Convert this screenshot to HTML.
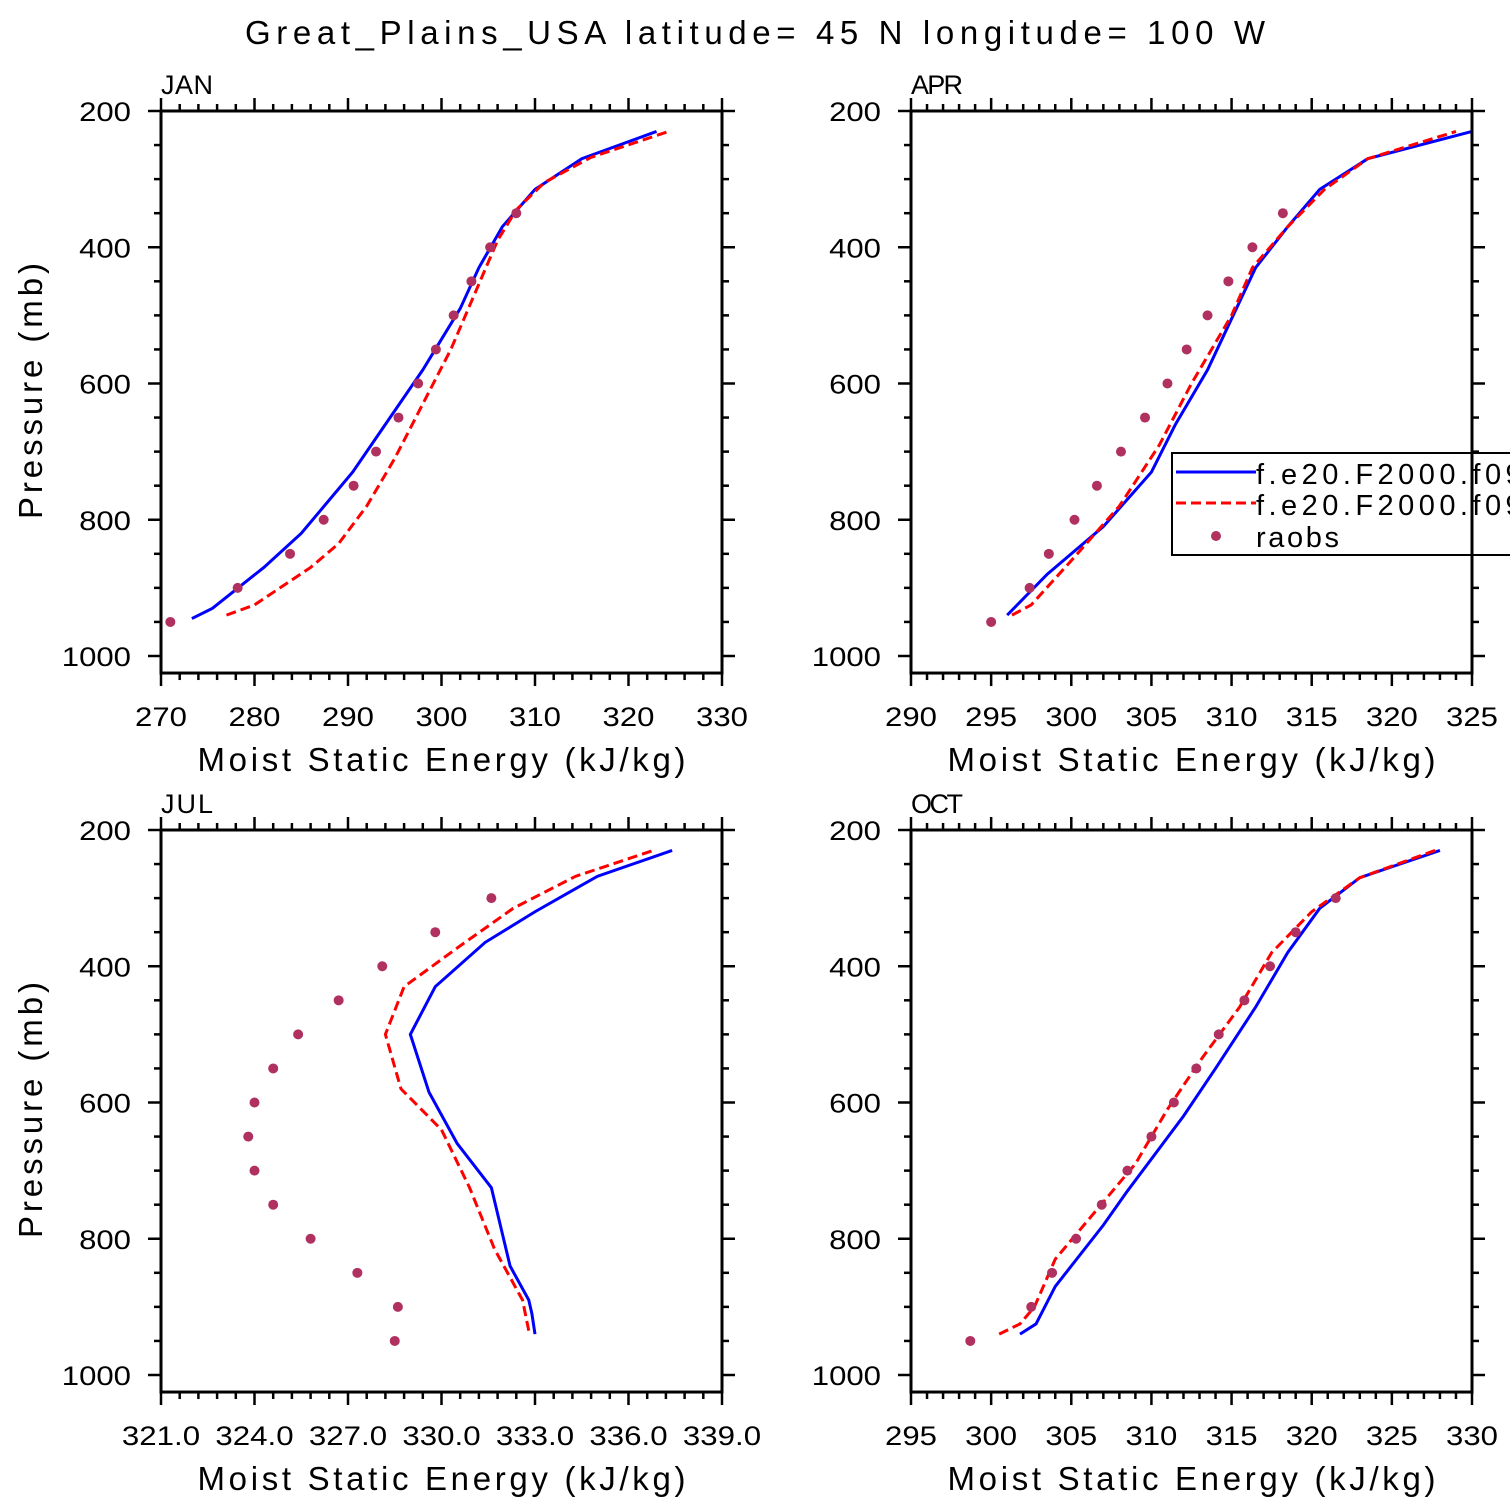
<!DOCTYPE html>
<html><head><meta charset="utf-8"><style>
html,body{margin:0;padding:0;background:#fff;}
svg{display:block;font-family:"Liberation Sans",sans-serif;}
</style></head><body>
<svg id="s" width="1510" height="1510" viewBox="0 0 1510 1510">
<text x="245" y="44" font-size="33" textLength="1020" lengthAdjust="spacing">Great_Plains_USA  latitude= 45 N longitude= 100 W</text>
</svg>
<script>
const levels=[950,900,850,800,750,700,650,600,550,500,450,400,350,300];
const janBlueX=[273.3,275.5,281,285,290.5,294,298,302,304,306.5,310,315,323];
const janBlueP=[945,930,870,820,730,660,580,490,430,370,315,270,230];
const janRedX=[277,280,286,289,292,295,298,301,303.5,306,308,311,316,324.3];
const janRedP=[940,925,870,835,780,710,630,550,470,390,345,305,268,230];
const janObs=[271,278.2,283.8,287.4,290.6,293,295.4,297.5,299.4,301.3,303.2,305.2,308];
const aprBlueX=[296,298.5,302,305,306.5,308.5,311.5,313.5,315.5,318.5,325];
const aprBlueP=[940,880,810,730,660,580,430,370,315,270,230];
const aprRedX=[296.3,297.5,300,303,305.5,307.5,310,311.3,313.5,315.8,318.5,324];
const aprRedP=[940,925,860,780,690,600,500,430,370,315,270,230];
const aprObs=[295,297.4,298.6,300.2,301.6,303.1,304.6,306,307.2,308.5,309.8,311.3,313.2];
const julBlueX=[333,332.9,332.8,332.2,331.6,330.5,329.6,329,329.8,331.4,333,335,337.4];
const julBlueP=[940,910,890,840,725,660,585,500,430,365,320,268,230];
const julRedX=[332.8,332.6,331.7,330.9,330,328.7,328.2,328.8,330.6,332.3,334.3,336.8];
const julRedP=[935,890,815,725,640,580,500,430,370,315,268,230];
const julObs=[328.5,328.6,327.3,325.8,324.6,324,323.8,324,324.6,325.4,326.7,328.1,329.8,331.6];
const octBlueX=[301.8,302.8,304,307,308.5,312,314,316.5,318.5,320.5,323,328];
const octBlueP=[940,925,870,780,730,620,550,460,380,315,270,230];
const octRedX=[300.5,301.8,302.7,304,306.5,309,311,313,315.5,317.5,320,323,327.7];
const octRedP=[940,925,900,830,760,690,610,540,460,380,320,270,230];
const octObs=[298.7,302.5,303.8,305.3,306.9,308.5,310,311.4,312.8,314.2,315.8,317.4,319,321.5];
const janTicks=["270","280","290","300","310","320","330"];
const aprTicks=["290","295","300","305","310","315","320","325"];
const julTicks=["321.0","324.0","327.0","330.0","333.0","336.0","339.0"];
const octTicks=["295","300","305","310","315","320","325","330"];
const yTicks=["200","400","600","800","1000"];

const NS="http://www.w3.org/2000/svg";
const svg=document.getElementById('s');
function mk(t,a,p){const e=document.createElementNS(NS,t);for(const k in a)e.setAttribute(k,a[k]);(p||svg).appendChild(e);return e;}
function tl(s){let n=0;for(const c of s)n+=(c==='.')?9:17.3;return n;}

const panels=[
 {name:'jan',title:'JAN',x0:161,y0:111,xmin:270,xmax:330,ticks:janTicks,b:[janBlueX,janBlueP],r:[janRedX,janRedP],o:janObs},
 {name:'apr',title:'APR',x0:911,y0:111,xmin:290,xmax:325,ticks:aprTicks,b:[aprBlueX,aprBlueP],r:[aprRedX,aprRedP],o:aprObs},
 {name:'jul',title:'JUL',x0:161,y0:830,xmin:321,xmax:339,ticks:julTicks,b:[julBlueX,julBlueP],r:[julRedX,julRedP],o:julObs},
 {name:'oct',title:'OCT',x0:911,y0:830,xmin:295,xmax:330,ticks:octTicks,b:[octBlueX,octBlueP],r:[octRedX,octRedP],o:octObs}
];
const W=561, PPM=545/800, H=825*PPM;
panels.forEach(p=>{
 const g=mk('g',{});
 
 
 const X=v=>p.x0+(v-p.xmin)/(p.xmax-p.xmin)*W;
 const Y=v=>p.y0+(v-200)*PPM;
 const t=mk('text',{x:p.x0,y:p.y0-17,'font-size':27,textLength:52,lengthAdjust:'spacing'},g);t.textContent=p.title;
 
 const n=p.ticks.length-1;
 for(let i=0;i<=n*5;i++){
  const v=p.xmin+(p.xmax-p.xmin)*i/(n*5);const x=X(v);const L=i%5==0?13:7;
  mk('line',{x1:x,x2:x,y1:p.y0,y2:p.y0-L,stroke:'#000','stroke-width':2.5},g);
  mk('line',{x1:x,x2:x,y1:p.y0+H,y2:p.y0+H+L,stroke:'#000','stroke-width':2.5},g);
 }
 p.ticks.forEach((s,i)=>{const v=p.xmin+(p.xmax-p.xmin)*i/n;const L=tl(s);
  const e=mk('text',{x:X(v)-L/2,y:p.y0+H+53,'font-size':27,textLength:L,lengthAdjust:'spacingAndGlyphs'},g);e.textContent=s;
  });
 for(let v=200;v<=1000;v+=50){const y=Y(v);const L=v%200==0?13:7;
  mk('line',{x1:p.x0,x2:p.x0-L,y1:y,y2:y,stroke:'#000','stroke-width':2.5},g);
  mk('line',{x1:p.x0+W,x2:p.x0+W+L,y1:y,y2:y,stroke:'#000','stroke-width':2.5},g);}
 yTicks.forEach(s=>{const L=tl(s);const e=mk('text',{x:p.x0-30-L,y:Y(+s)+10,'font-size':27,textLength:L,lengthAdjust:'spacingAndGlyphs'},g);e.textContent=s;
  });
 const xt=mk('text',{x:p.x0+W/2-244,y:p.y0+H+98,'font-size':33,textLength:488,lengthAdjust:'spacing'},g);xt.textContent='Moist Static Energy (kJ/kg)';
 
 if(p.x0<500){const yc=p.y0+H/2-1;const yt=mk('text',{x:42-128,y:yc,'font-size':33,textLength:256,lengthAdjust:'spacing',transform:`rotate(-90 42 ${yc})`},g);
  yt.setAttribute('x',42-128);yt.textContent='Pressure (mb)';
  }
 const pts=(a)=>a[0].map((v,i)=>X(v)+','+Y(a[1][i])).join(' ');
 const bl=mk('polyline',{points:pts(p.b),fill:'none',stroke:'#0000ff','stroke-width':3},g);
 
 const rl=mk('polyline',{points:pts(p.r),fill:'none',stroke:'#ff0000','stroke-width':3,'stroke-dasharray':'10,5'},g);
 
 p.o.forEach((v,i)=>{const c=mk('circle',{cx:X(v),cy:Y(levels[i]),r:5,fill:'#b03060'},g);
  });
 if(p.name==='apr'){
  const lg=mk('g',{},g);
  mk('rect',{x:1172,y:453,width:360,height:102,fill:'#fff',stroke:'#000','stroke-width':2},lg);
  mk('line',{x1:1176,x2:1256,y1:472,y2:472,stroke:'#0000ff','stroke-width':3},lg);
  mk('line',{x1:1176,x2:1256,y1:503,y2:503,stroke:'#ff0000','stroke-width':3,'stroke-dasharray':'10,5'},lg);
  mk('circle',{cx:1216,cy:536,r:5,fill:'#b03060'},lg);
  [['f.e20.F2000.f09_f09',484,340],['f.e20.F2000.f09_f09',515,340],['raobs',547,83]].forEach(([s,y,L])=>{
   const e=mk('text',{x:1256,y:y,'font-size':29,textLength:L,lengthAdjust:'spacing'},lg);e.textContent=s;
   });
 }
 mk('rect',{x:p.x0,y:p.y0,width:W,height:H,fill:'none',stroke:'#000','stroke-width':3},g);
});
</script>
</body></html>
